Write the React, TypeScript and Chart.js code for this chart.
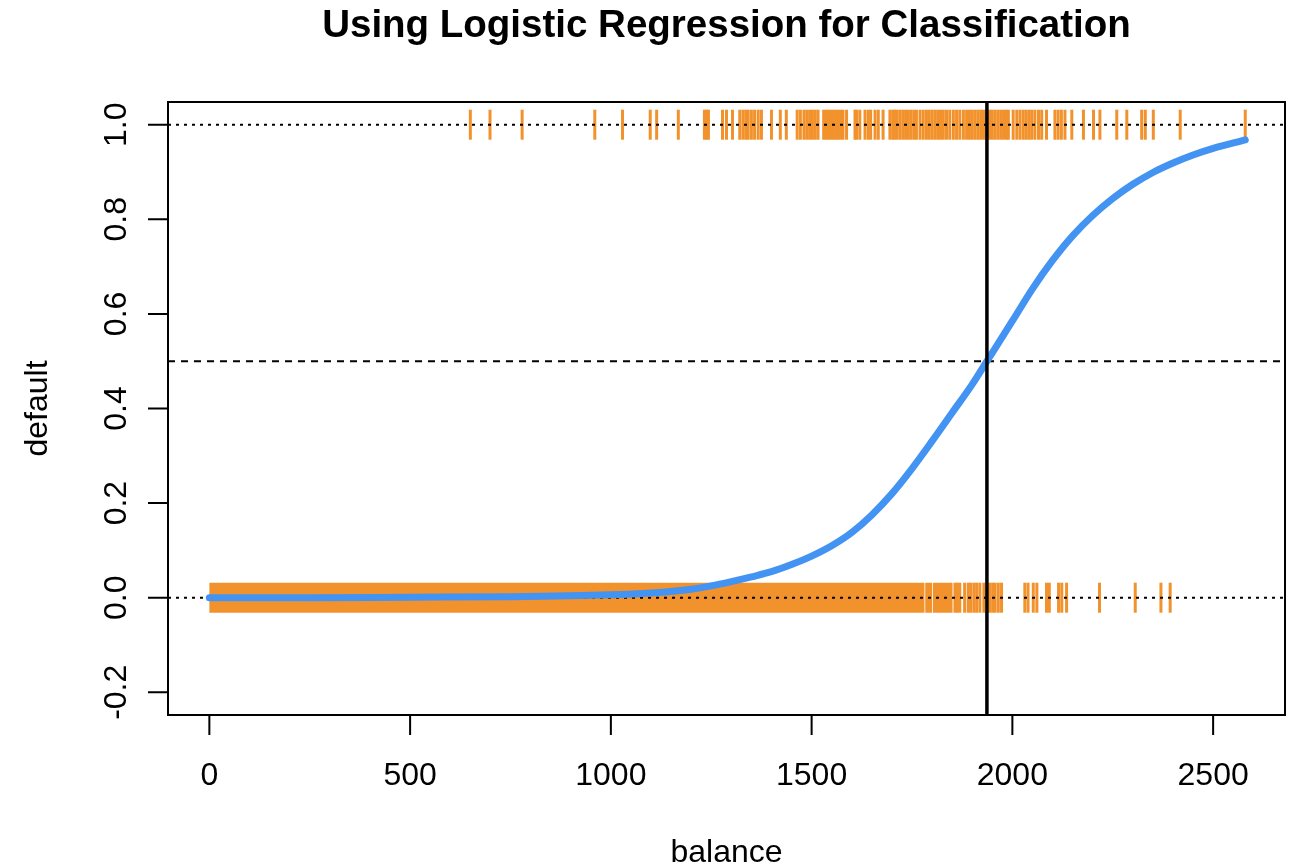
import React, { useEffect, useRef } from "react";
import { Chart, registerables } from "chart.js";

Chart.register(...registerables);

const titleText = "Using Logistic Regression for Classification";
const xAxisTitle = "balance";
const yAxisTitle = "default";

const xTickValues = [0, 500, 1000, 1500, 2000, 2500];
const xTickLabels = ["0", "500", "1000", "1500", "2000", "2500"];
const yTickValues = [-0.2, 0, 0.2, 0.4, 0.6, 0.8, 1.0];
const yTickLabels = ["-0.2", "0.0", "0.2", "0.4", "0.6", "0.8", "1.0"];
const xLimits = [-103, 2679];
const yLimits = [-0.248, 1.048];

// fitted probability curve
const curveBalance = [0, 250, 500, 750, 1000, 1100, 1200, 1250, 1300, 1350, 1400, 1450, 1500, 1550, 1600, 1650, 1700, 1750, 1800, 1850, 1900, 1936.6, 2000, 2050, 2100, 2150, 2200, 2250, 2300, 2350, 2400, 2450, 2500, 2580];
const curveProb = [0, 0, 0.001, 0.002, 0.006, 0.01, 0.018, 0.025, 0.034, 0.044, 0.055, 0.07, 0.088, 0.11, 0.138, 0.175, 0.22, 0.273, 0.331, 0.391, 0.451, 0.5, 0.585, 0.653, 0.713, 0.765, 0.808, 0.844, 0.874, 0.899, 0.919, 0.936, 0.95, 0.968];

// observed defaults (default = 1)
const defaultYesBalance = [
  650, 699, 779, 960, 1029, 1098, 1114, 1168, 1233, 1238, 1243, 1278, 1288, 1303, 1321, 1329, 1336, 1342, 1350, 1358,
  1367, 1375, 1400, 1422, 1437, 1464, 1472, 1481, 1488, 1495, 1502, 1509, 1516, 1530, 1536, 1542, 1548, 1554, 1560,
  1566, 1572, 1578, 1587, 1608, 1612, 1620, 1633, 1641, 1647, 1658, 1666, 1678, 1695, 1702, 1707, 1713, 1720, 1727,
  1734, 1741, 1748, 1755, 1761, 1770, 1778, 1786, 1793, 1800, 1807, 1814, 1821, 1828, 1836, 1844, 1853, 1861, 1869,
  1878, 1886, 1893, 1900, 1907, 1914, 1921, 1928, 1936, 1943, 1950, 1957, 1964, 1971, 1978, 1985, 1990, 2002, 2011,
  2019, 2027, 2034, 2041, 2048, 2056, 2065, 2073, 2085, 2106, 2114, 2122, 2131, 2148, 2177, 2202, 2218, 2260, 2285,
  2322, 2331, 2351, 2418, 2580,
];

// observed non-defaults (default = 0): dense ranges and sparse individual values
const defaultNoDenseStart = [0, 1783, 1802];
const defaultNoDenseEnd = [1781, 1800, 1851];
const defaultNoBalance = [
  1857, 1863, 1869, 1881, 1890, 1896, 1904, 1911, 1919, 1929, 1938, 1944, 1951, 1957, 1965, 1973, 2031, 2039, 2052,
  2061, 2085, 2092, 2115, 2123, 2135, 2217, 2306, 2370, 2393,
];

const probThreshold = 0.5;
const balanceCutoff = 1936.6;

const ORANGE = "rgb(242,146,45)";
const BLUE = "#4393F2";
const FONT = "'Liberation Sans', Arial, Helvetica, sans-serif";

const rAxesPlugin = {
  id: "rAxes",
  afterDraw(chart: any) {
    const { ctx, chartArea: a, scales } = chart;
    const xs = scales.x;
    const ys = scales.y;
    ctx.save();
    ctx.strokeStyle = "#000";
    ctx.fillStyle = "#000";
    ctx.lineWidth = 2;
    ctx.strokeRect(a.left, a.top, a.right - a.left, a.bottom - a.top);

    // x axis
    ctx.beginPath();
    const xf = xs.getPixelForValue(xTickValues[0]);
    const xl = xs.getPixelForValue(xTickValues[xTickValues.length - 1]);
    ctx.moveTo(xf, a.bottom);
    ctx.lineTo(xl, a.bottom);
    xTickValues.forEach((v) => {
      const px = xs.getPixelForValue(v);
      ctx.moveTo(px, a.bottom);
      ctx.lineTo(px, a.bottom + 20);
    });
    // y axis
    const yf = ys.getPixelForValue(yTickValues[0]);
    const yl = ys.getPixelForValue(yTickValues[yTickValues.length - 1]);
    ctx.moveTo(a.left, yf);
    ctx.lineTo(a.left, yl);
    yTickValues.forEach((v) => {
      const py = ys.getPixelForValue(v);
      ctx.moveTo(a.left, py);
      ctx.lineTo(a.left - 20, py);
    });
    ctx.stroke();

    ctx.font = `32px ${FONT}`;
    ctx.textAlign = "center";
    ctx.textBaseline = "alphabetic";
    xTickLabels.forEach((l, i) => {
      ctx.fillText(l, xs.getPixelForValue(xTickValues[i]), a.bottom + 70);
    });
    yTickLabels.forEach((l, i) => {
      const py = ys.getPixelForValue(yTickValues[i]);
      ctx.save();
      ctx.translate(a.left - 42, py);
      ctx.rotate(-Math.PI / 2);
      ctx.fillText(l, 0, 0);
      ctx.restore();
    });

    // axis titles
    const cx = (a.left + a.right) / 2;
    const cy = (a.top + a.bottom) / 2;
    ctx.fillText(xAxisTitle, cx, 862);
    ctx.save();
    ctx.translate(47, cy);
    ctx.rotate(-Math.PI / 2);
    ctx.fillText(yAxisTitle, 0, 0);
    ctx.restore();

    // main title
    ctx.font = `bold 38.5px ${FONT}`;
    ctx.fillText(titleText, cx, 37);
    ctx.restore();
  },
};

export default function App() {
  const canvasRef = useRef<HTMLCanvasElement | null>(null);

  useEffect(() => {
    if (!canvasRef.current) return;

    const denseData: any[] = [];
    defaultNoDenseStart.forEach((s, i) => {
      denseData.push({ x: s, y: 0 });
      denseData.push({ x: defaultNoDenseEnd[i], y: 0 });
      denseData.push({ x: defaultNoDenseEnd[i] + 0.5, y: null });
    });

    const hLine = (yv: number) => [
      { x: xLimits[0], y: yv },
      { x: xLimits[1], y: yv },
    ];

    const chart = new Chart(canvasRef.current, {
      type: "scatter",
      data: {
        datasets: [
          {
            type: "line",
            label: "cutoff",
            data: [
              { x: balanceCutoff, y: yLimits[0] - 1 },
              { x: balanceCutoff, y: yLimits[1] + 1 },
            ],
            borderColor: "#000",
            borderWidth: 3.5,
            pointRadius: 0,
            order: 0,
          } as any,
          {
            type: "line",
            label: "fitted",
            data: curveBalance.map((b, i) => ({ x: b, y: curveProb[i] })),
            borderColor: BLUE,
            borderWidth: 7,
            borderCapStyle: "round",
            borderJoinStyle: "round",
            cubicInterpolationMode: "monotone",
            pointRadius: 0,
            order: 1,
          } as any,
          {
            type: "line",
            label: "threshold",
            data: hLine(probThreshold),
            borderColor: "#000",
            borderWidth: 2,
            borderDash: [7, 6],
            pointRadius: 0,
            order: 2,
          } as any,
          {
            type: "line",
            label: "zero",
            data: hLine(0),
            borderColor: "#000",
            borderWidth: 2,
            borderDash: [3, 5],
            pointRadius: 0,
            order: 2,
          } as any,
          {
            type: "line",
            label: "one",
            data: hLine(1),
            borderColor: "#000",
            borderWidth: 2,
            borderDash: [3, 5],
            pointRadius: 0,
            order: 2,
          } as any,
          {
            type: "scatter",
            label: "default yes",
            data: defaultYesBalance.map((b) => ({ x: b, y: 1 })),
            pointStyle: "line",
            pointRotation: 90,
            rotation: 90,
            pointRadius: 15,
            radius: 15,
            pointBorderWidth: 3,
            borderWidth: 3,
            borderColor: ORANGE,
            pointBorderColor: ORANGE,
            backgroundColor: ORANGE,
            order: 3,
          } as any,
          {
            type: "scatter",
            label: "default no",
            data: defaultNoBalance.map((b) => ({ x: b, y: 0 })),
            pointStyle: "line",
            pointRotation: 90,
            rotation: 90,
            pointRadius: 15,
            radius: 15,
            pointBorderWidth: 3,
            borderWidth: 3,
            borderColor: ORANGE,
            pointBorderColor: ORANGE,
            backgroundColor: ORANGE,
            order: 3,
          } as any,
          {
            type: "line",
            label: "default no dense",
            data: denseData,
            borderColor: ORANGE,
            borderWidth: 30,
            borderCapStyle: "butt",
            pointRadius: 0,
            spanGaps: false,
            order: 4,
          } as any,
        ],
      },
      options: {
        animation: false,
        responsive: false,
        events: [],
        layout: { autoPadding: false, padding: { left: 168, top: 102, right: 11, bottom: 151 } },
        plugins: {
          legend: { display: false },
          title: { display: false },
          tooltip: { enabled: false },
        },
        scales: {
          x: { type: "linear", min: xLimits[0], max: xLimits[1], display: false },
          y: { type: "linear", min: yLimits[0], max: yLimits[1], display: false },
        },
      },
      plugins: [rAxesPlugin],
    });

    return () => chart.destroy();
  }, []);

  return (
    <div style={{ position: "absolute", left: 0, top: 0, width: 1296, height: 866, background: "#fff" }}>
      <canvas ref={canvasRef} width={1296} height={866} style={{ width: 1296, height: 866, display: "block" }} />
    </div>
  );
}
